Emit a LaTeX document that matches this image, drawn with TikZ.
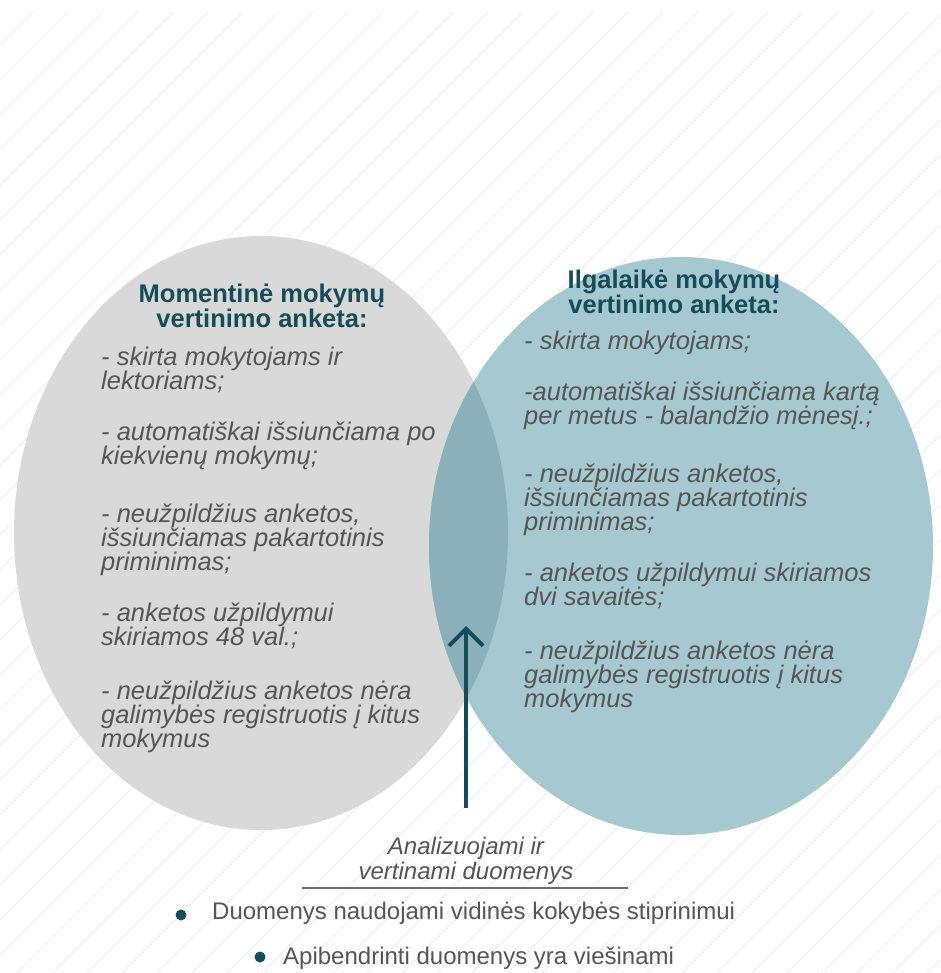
\documentclass[tikz,border=0pt]{standalone}
\usepackage{fontspec}
\setmainfont{Liberation Sans}
\usepackage{xcolor}
\definecolor{grey300}{HTML}{D9D9D9}
\definecolor{grey200}{HTML}{EAEAEA}
\definecolor{grey700}{HTML}{555555}
\definecolor{grey600}{HTML}{6E6E6E}
\definecolor{teal300}{HTML}{9DC3CD}
\definecolor{teal400}{HTML}{8CB0BA}
\definecolor{teal900}{HTML}{144C5A}
\usetikzlibrary{arrows.meta, positioning}

\begin{document}
\begin{tikzpicture}[
        x=1pt, y=-1pt,
        hatch/.style={draw=grey200, line width=0.7pt},
        heading/.style={font=\fontsize{25.5}{25}\selectfont\bfseries, text=teal900, align=center, inner sep=0pt, anchor=north},
        itemlist/.style={font=\fontsize{25.5}{24}\selectfont\itshape, text=grey700, align=left, inner sep=0pt, anchor=north west},
        flow/.style={-{Straight Barb[length=17pt, width=34pt]}, line width=4pt, draw=teal900},
        dot/.style={circle, fill=teal900, inner sep=0pt, minimum size=11pt},
        bullet/.style={font=\fontsize{24}{26}\selectfont, text=grey700, anchor=west, inner sep=0pt}
    ]
        \useasboundingbox (0,0) rectangle (940,973);
        \fill[white] (0,0) rectangle (940,973);

        % Background stripes
        \begin{scope}
            \clip (0,12) rectangle (940,973);
            \foreach \k in {0,...,55}
                \draw[hatch] ({33+35*\k},12) -- ++(-961,961);
        \end{scope}

        % Two questionnaires
        \coordinate (momc) at (261,533);
        \coordinate (ilgc) at (681,546);
        \fill[grey300] (momc) ellipse [x radius=247, y radius=297];
        \fill[teal300, fill opacity=0.9] (ilgc) ellipse [x radius=252, y radius=289];
        \begin{scope}
            \clip (momc) ellipse [x radius=247, y radius=297];
            \fill[teal400] (ilgc) ellipse [x radius=252, y radius=289];
        \end{scope}

        % Left texts
        \node[heading] (momtitle) at (262,284) {Momentinė mokymų\\vertinimo anketa:};
        \node[itemlist] (momitems) at (101,347) {- skirta mokytojams ir\\lektoriams;\\[27pt]
            - automatiškai išsiunčiama po\\kiekvienų mokymų;\\[34pt]
            - neužpildžius anketos,\\išsiunčiamas pakartotinis\\priminimas;\\[27pt]
            - anketos užpildymui\\skiriamos 48 val.;\\[30pt]
            - neužpildžius anketos nėra\\galimybės registruotis į kitus\\mokymus};

        % Right texts
        \node[heading] (ilgtitle) at (674,270) {Ilgalaikė mokymų\\vertinimo anketa:};
        \node[itemlist] (ilgitems) at (524,331) {- skirta mokytojams;\\[27pt]
            -automatiškai išsiunčiama kartą\\per metus - balandžio mėnesį.;\\[34pt]
            - neužpildžius anketos,\\išsiunčiamas pakartotinis\\priminimas;\\[27pt]
            - anketos užpildymui skiriamos\\dvi savaitės;\\[30pt]
            - neužpildžius anketos nėra\\galimybės registruotis į kitus\\mokymus};

        % Analysis
        \node[font=\fontsize{24}{25}\selectfont\itshape, text=grey700, align=center, inner sep=0pt] (ana) at (466,861) {Analizuojami ir\\vertinami duomenys};
        \coordinate (base) at (466,808);
        \coordinate (tip) at (466,626);
        \draw[flow] (base) -- (tip);
        \coordinate (ruleL) at (302,888);
        \coordinate (ruleR) at (628,888);
        \draw[grey600, line width=1.5pt] (ruleL) -- (ruleR);

        % Results
        \node[dot] (dot1) at (181,915) {};
        \node[bullet] (res1) at (212,913) {Duomenys naudojami vidinės kokybės stiprinimui};
        \node[dot] (dot2) at (260,957) {};
        \node[bullet] (res2) at (283,958) {Apibendrinti duomenys yra viešinami};
    \end{tikzpicture}
\end{document}
